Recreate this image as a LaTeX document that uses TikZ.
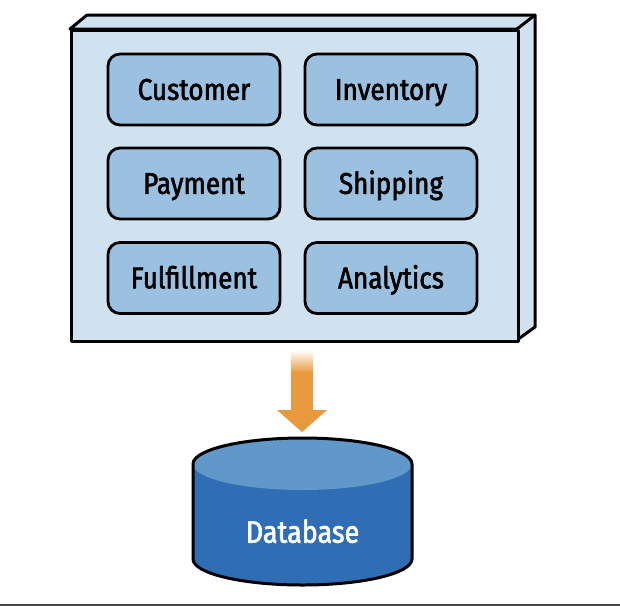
\documentclass[tikz,border=0pt]{standalone}
\usepackage{fontspec}
\setmainfont{Fira Sans}[FakeStretch=0.87, FakeBold=2]
\definecolor{facebg}{HTML}{D0E2F0}
\definecolor{svcfill}{HTML}{9BC0E0}
\definecolor{dbbody}{HTML}{2F6EB5}
\definecolor{dbtop}{HTML}{5F98C9}
\definecolor{arroworange}{HTML}{E8993B}
\definecolor{rulegray}{HTML}{474747}
\begin{document}
\begin{tikzpicture}[x=1pt,y=-1pt,
  svc/.style={draw=black, line width=2.8pt, fill=svcfill, rounded corners=12pt,
    minimum width=172pt, minimum height=71pt, inner sep=0pt,
    font=\fontsize{30}{32}\selectfont, text height=20.7pt, text depth=0pt},
  face/.style={draw=black, line width=3pt, fill=facebg, line join=round},
  dblabel/.style={text=white, font=\fontsize{31}{33}\selectfont, text height=21.4pt, text depth=0pt}]
\useasboundingbox (0,0) rectangle (620,606);
\fill[white] (0,0) rectangle (620,606);
% 3D box: top and side faces
\draw[face] (70,29) -- (87,15) -- (535,15) -- (535,327) -- (517,340) -- (517,29) -- cycle;
\draw[line width=3pt, line cap=round] (517,29) -- (535,15);
% front face
\node[face, minimum width=447pt, minimum height=311pt, inner sep=0pt, anchor=north west] (front) at (70,29) {};
% services
\node[svc] (customer)    at (194,89.5)  {Customer};
\node[svc] (inventory)   at (391,89.5)  {Inventory};
\node[svc] (payment)     at (194,183.5) {Payment};
\node[svc] (shipping)    at (391,183.5) {Shipping};
\node[svc] (fulfillment) at (194,278)   {Fulfillment};
\node[svc] (analytics)   at (391,278)   {Analytics};
% arrow
\coordinate (arrowtop) at (302,350);
\coordinate (arrowtip) at (302,432);
\shade[top color=white, bottom color=arroworange] (291,350) rectangle (313,373);
\fill[arroworange] (291,372) rectangle (313,411);
\fill[arroworange] (277,410) -- (327,410) -- (arrowtip) -- cycle;
% database
\fill[dbbody] (193,464) -- (193,559) arc (180:360:109.5pt and 26pt) -- (412,464) arc (0:180:109.5pt and 26pt) -- cycle;
\fill[dbtop] (302.5,464) ellipse (109.5pt and 26pt);
\draw[line width=3pt, line join=round] (193,464) -- (193,559) arc (180:360:109.5pt and 26pt) -- (412,464) arc (0:180:109.5pt and 26pt) -- cycle;
\node[dblabel] (database) at (302.5,532) {Database};
% bottom rule
\draw[rulegray, line width=2pt] (0,605) -- (620,605);
\end{tikzpicture}
\end{document}
